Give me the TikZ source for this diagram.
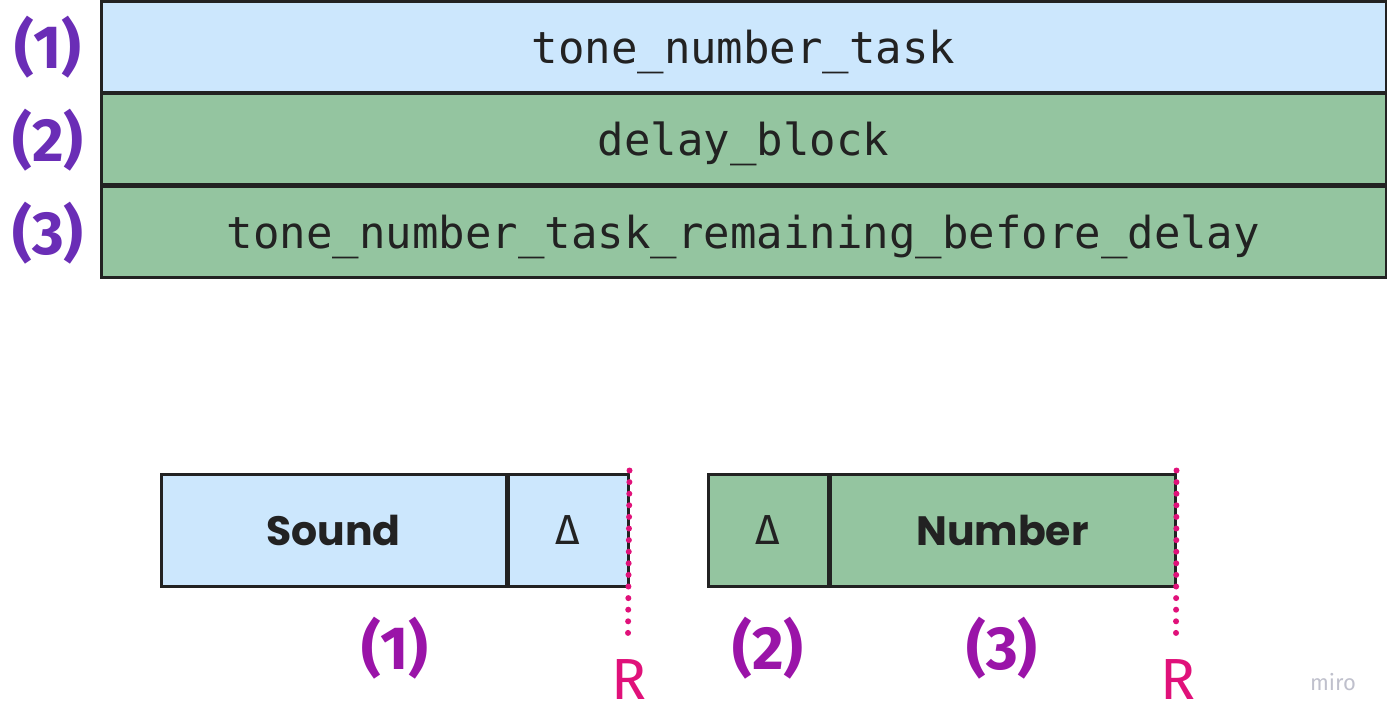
\documentclass[tikz,border=0pt]{standalone}
\usepackage{fontspec}
\setmonofont{DejaVu Sans Mono}
\newfontfamily\tnlabelfont{Fira Sans}
\newfontfamily\tnheavyfont{Poppins}
\usetikzlibrary{positioning}
\definecolor{tnblue}{HTML}{CCE7FD}
\definecolor{tngreen}{HTML}{94C5A0}
\definecolor{tnedge}{HTML}{222222}
\definecolor{tnviolet}{HTML}{6A2DB6}
\definecolor{tnpurple}{HTML}{9A14A8}
\definecolor{tnred}{HTML}{E0117A}
\definecolor{tngray}{HTML}{BFC0CC}
\tikzset{
  tnblock/.style={rectangle, draw=tnedge, line width=3pt, inner sep=0pt,
    minimum width=1285pt, minimum height=91pt, text=tnedge,
    text height=33pt, text depth=0pt,
    font=\ttfamily\fontsize{44}{50}\selectfont},
  tnseg/.style={rectangle, draw=tnedge, line width=3pt, inner sep=0pt,
    minimum height=112pt, text=tnedge},
  tnheavy/.style={font=\tnheavyfont\bfseries\fontsize{41}{46}\selectfont},
  tndelta/.style={font=\tnlabelfont\fontsize{42}{48}\selectfont},
  tnnum/.style={font=\tnlabelfont\bfseries\fontsize{61}{68}\selectfont},
  tnmark/.style={tnred, line width=6pt, line cap=round, dash pattern=on 0pt off 11.6pt},
  tnrtext/.style={text=tnred, font=\tnlabelfont\fontsize{58}{66}\selectfont},
}
\begin{document}
\begin{tikzpicture}[x=1pt, y=-1pt]
  \useasboundingbox (0,0) rectangle (1387,720);
  % Task blocks.
  \node[tnblock, fill=tnblue] (task) at (743.5,46.5) {tone\_number\_task};
  \node[tnblock, fill=tngreen] (delay) at (743.5,139) {delay\_block};
  \node[tnblock, fill=tngreen] (rest) at (743.5,232) {tone\_number\_task\_remaining\_before\_delay};
  \node[tnnum, text=tnviolet] (n_task) at (48,47) {(1)};
  \node[tnnum, text=tnviolet] (n_delay) at (48,140) {(2)};
  \node[tnnum, text=tnviolet] (n_rest) at (48,233) {(3)};

  % Timeline segments.
  \node[tnseg, tnheavy, fill=tnblue, minimum width=345pt] (sound) at (333.5,530) {Sound};
  \node[tnseg, tndelta, fill=tnblue, minimum width=120pt] (delta_a) at (568,530) {Δ};
  \node[tnseg, tndelta, fill=tngreen, minimum width=120pt] (delta_b) at (768,530) {Δ};
  \node[tnseg, tnheavy, fill=tngreen, minimum width=345pt] (number) at (1002.5,530) {Number};

  \node[tnnum, text=tnpurple] (s_sound) at (395,648) {(1)};
  \node[tnnum, text=tnpurple] (s_delay) at (768,648) {(2)};
  \node[tnnum, text=tnpurple] (s_number) at (1002,648) {(3)};

  % Response marks.
  \coordinate (r_a_end) at (628,635);
  \coordinate (r_b_end) at (1176,635);
  \node[tnrtext] (r_a) at (629,680) {R};
  \node[tnrtext] (r_b) at (1178,680) {R};
  \draw[tnmark] (delta_a.north east) ++(0,-2) -- (r_a_end);
  \draw[tnmark] (number.north east) ++(0,-2) -- (r_b_end);

  \node[text=tngray, font=\tnlabelfont\fontsize{22}{26}\selectfont] (miro) at (1333,682) {miro};
\end{tikzpicture}
\end{document}
